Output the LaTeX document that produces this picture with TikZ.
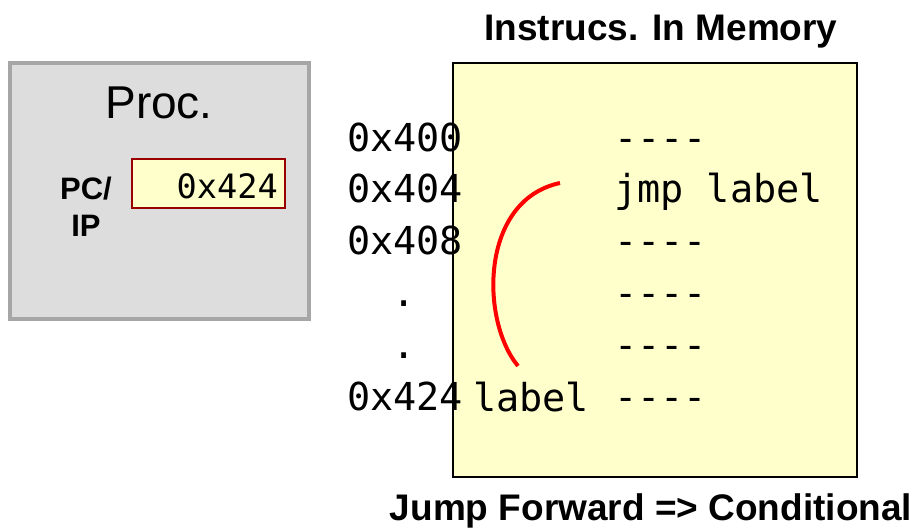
\documentclass[tikz,border=0pt]{standalone}
\usepackage{fontspec}
\setmainfont{Liberation Sans}
\newfontfamily\codefont{DejaVu Sans Mono}
\definecolor{memyellow}{HTML}{FFFFCC}
\definecolor{procgrey}{HTML}{DDDDDD}
\definecolor{procedge}{HTML}{A6A6A6}
\definecolor{regedge}{HTML}{990000}
\tikzset{
  txt/.style={inner sep=0pt, anchor=base west},
  code/.style={txt, font=\codefont\fontsize{38.5}{40}\selectfont},
}
\begin{document}
\begin{tikzpicture}[x=1pt, y=-1pt]
		\useasboundingbox (0,0) rectangle (916,528);
		% processor
		\node[draw=procedge, line width=4pt, fill=procgrey, minimum width=299pt, minimum height=256pt] (proc) at (159.5,191) {};
		\node[inner sep=0pt, anchor=base, font=\fontsize{46}{50}\selectfont] (procname) at (159,118) {Proc.};
		\node[inner sep=0pt, align=center, font=\bfseries\fontsize{31}{37}\selectfont] (pclabel) at (86,207) {PC/\\IP};
		\node[draw=regedge, line width=2pt, fill=memyellow, minimum width=153pt, minimum height=49pt] (pcreg) at (208.5,183) {};
		\node[inner sep=0pt, anchor=base east, font=\codefont\fontsize{33.6}{36}\selectfont] (pcval) at (278,198) {0x424};
		
		% memory
		\node[inner sep=0pt, anchor=base, font=\bfseries\fontsize{37}{40}\selectfont] (memtitle) at (661,40) {Instrucs. In Memory};
		\node[draw, line width=2pt, fill=memyellow, minimum width=404pt, minimum height=414pt] (mem) at (655,270) {};
		
		\node[code] (a400) at (347,151) {0x400};
		\node[code] (a404) at (347,202) {0x404};
		\node[code] (a408) at (347,254) {0x408};
		\node[code, anchor=base] (dot1) at (404,306) {.};
		\node[code, anchor=base] (dot2) at (404,358) {.};
		\node[code] (a424) at (347,410) {0x424};
		
		\node[code] (i400) at (614,151) {----};
		\node[code] (i404) at (614,202) {jmp label};
		\node[code] (i408) at (614,254) {----};
		\node[code] (i40c) at (614,306) {----};
		\node[code] (i410) at (614,358) {----};
		\node[code] (i424) at (614,410) {----};
		\node[code] (target) at (473,411) {label};
		
		% jump
		\coordinate (jfrom) at (560,183);
		\coordinate (jto) at (518,366);
		\draw[red, line width=4pt] (jfrom) .. controls (480,200) and (480,320) .. (jto);
		
		\node[inner sep=0pt, anchor=base, font=\bfseries\fontsize{37}{40}\selectfont] (caption) at (651,520) {Jump Forward => Conditional};
	\end{tikzpicture}
\end{document}
